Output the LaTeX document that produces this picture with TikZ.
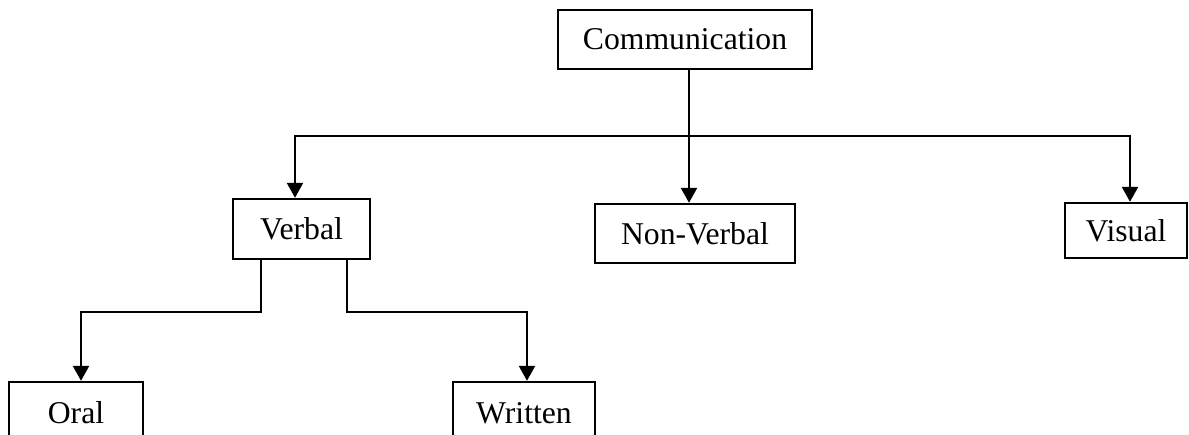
\documentclass[tikz,border=0pt]{standalone}
\usepackage{fontspec}
\setmainfont{Liberation Serif}
\usetikzlibrary{arrows.meta}
\begin{document}
\begin{tikzpicture}[x=1pt,y=-1pt,
  box/.style={draw,line width=2.4pt,inner sep=0pt,
    font=\fontsize{31.7}{38}\selectfont},
  link/.style={line width=2.4pt},
  arr/.style={link,-{Triangle[length=15pt,width=16pt]}}]
\useasboundingbox (0,0) rectangle (1189,435);
\clip (0,0) rectangle (1189,435);

% boxes
\node[box,minimum width=254pt,minimum height=59pt] (comm) at (685,39.5) {Communication};
\node[box,minimum width=137pt,minimum height=60pt] (verbal) at (301.5,229) {Verbal};
\node[box,minimum width=200pt,minimum height=59pt] (nonverbal) at (695,233.5) {Non-Verbal};
\node[box,minimum width=122pt,minimum height=55pt] (visual) at (1126,230.5) {Visual};
\node[box,minimum width=134pt,minimum height=62pt] (oral) at (76,413) {Oral};
\node[box,minimum width=142pt,minimum height=62pt] (written) at (524,413) {Written};

% first level: Communication to its three kinds
\coordinate (ctop) at ([xshift=4pt]comm.south);
\coordinate (bus) at (689,136);
\draw[arr] (ctop) -- (ctop |- nonverbal.north);
\draw[arr] (bus) -| ([xshift=-6.5pt]verbal.north);
\draw[arr] (bus) -| ([xshift=4pt]visual.north);

% second level: Verbal to Oral and Written
\coordinate (lvl) at (0,312);
\coordinate (lsplit) at ([xshift=-40.5pt]verbal.south);
\coordinate (rsplit) at ([xshift=45.5pt]verbal.south);
\draw[arr] (lsplit) -- (lsplit |- lvl) -| ([xshift=5pt]oral.north);
\draw[arr] (rsplit) -- (rsplit |- lvl) -| ([xshift=3pt]written.north);
\end{tikzpicture}
\end{document}
